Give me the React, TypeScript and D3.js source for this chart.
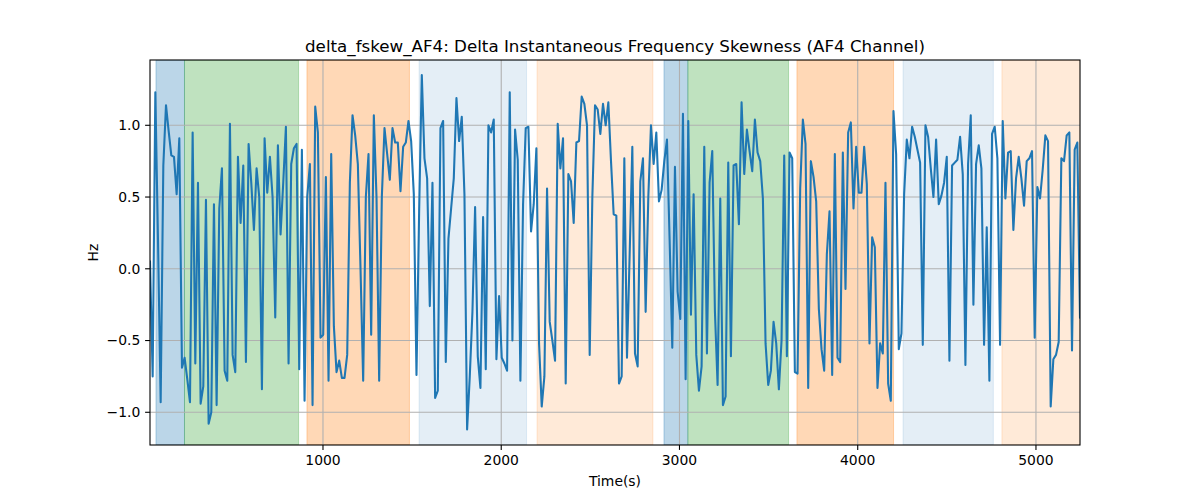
import React from "react";
import * as d3 from "d3";

const title = "delta_fskew_AF4: Delta Instantaneous Frequency Skewness (AF4 Channel)";
const xLabel = "Time(s)";
const yLabel = "Hz";

const t0 = 29.5;
const tStep = 14.95;

const values: number[] = [
  0.05, -0.75, 1.23, 0.2, -0.93, 0.72, 1.14, 0.96, 0.79, 0.78,
  0.52, 0.91, -0.69, -0.62, -0.77, -0.93, 0.95, -0.66, 0.6, -0.94,
  -0.82, 0.48, -1.08, -1.0, 0.45, -0.95, 0.42, 0.7, -0.71, -0.78,
  1.01, -0.6, -0.72, 0.78, 0.32, 0.72, -0.65, 0.87, 0.6, 0.27,
  0.7, 0.5, -0.84, 0.91, 0.53, 0.78, 0.5, -0.34, 0.86, 0.24,
  0.6, 0.99, -0.66, 0.73, 0.84, 0.87, -0.7, 0.83, -0.92, 0.5,
  0.73, -0.95, 1.13, 0.95, -0.48, -0.46, 0.64, -0.78, 0.8, -0.4,
  -0.72, -0.64, -0.76, -0.76, -0.6, 0.6, 1.07, 0.93, 0.73, 0.0,
  -0.78, 0.5, 0.8, -0.46, 1.07, 0.5, -0.78, 0.5, 0.98, 0.8,
  0.62, 0.98, 0.88, 0.88, 0.54, 0.85, 0.88, 1.03, 0.89, 0.52,
  -0.74, 0.4, 1.35, 0.77, 0.63, -0.26, 0.6, -0.9, -0.85, 0.98,
  1.03, -0.65, 0.21, 0.42, 0.63, 1.19, 0.89, 1.06, 0.52, -1.12,
  -0.75, -0.3, 0.43, -0.61, -0.83, 0.36, -0.7, 1.0, 0.95, 1.04,
  -0.63, -0.19, -0.62, -0.66, -0.71, 1.23, -0.5, 0.97, 0.76, -0.78,
  0.45, 0.98, 0.99, 0.26, 0.45, 0.84, -0.52, -0.96, -0.75, 0.56,
  -0.37, -0.5, -0.64, 1.01, 0.7, 0.91, -0.8, 0.66, 0.61, 0.32,
  0.88, 0.89, 1.2, 1.15, 1.0, -0.6, 0.5, 1.14, 1.11, 0.94,
  1.15, 1.0, 1.16, 0.75, 0.38, 0.37, -0.8, -0.75, 0.77, -0.62,
  0.1, 0.85, -0.59, -0.68, 0.61, 0.77, -0.3, 0.5, 1.0, 0.73,
  0.95, 0.47, 0.55, 0.75, 0.9, 0.2, -0.55, 0.71, -0.16, -0.35,
  1.08, -0.77, 1.03, -0.32, 0.52, -0.6, -0.85, -0.68, 0.85, -0.59,
  0.6, 0.82, -0.3, -0.81, 0.49, -0.95, -0.89, 0.74, -0.61, 0.72,
  0.73, 0.31, 1.16, 0.66, 0.97, 0.82, 0.68, 1.04, 0.81, 0.75,
  0.49, -0.52, -0.81, -0.71, -0.37, -0.52, -0.84, -0.5, 0.79, -0.61,
  0.81, 0.77, -0.72, -0.73, 0.56, 1.04, 0.87, -0.83, 0.75, 0.64,
  0.47, -0.28, -0.56, -0.71, 0.1, 0.4, -0.74, 0.8, -0.62, -0.65,
  0.81, -0.14, 0.95, 1.02, 0.42, 0.85, 0.53, 0.53, 0.85, 0.59,
  -0.52, 0.22, 0.15, -0.83, -0.52, -0.59, 0.6, -0.8, -0.92, 1.1,
  0.8, -0.56, -0.45, 0.52, 0.9, 0.77, 0.99, 0.92, 0.83, 0.74,
  -0.53, 1.0, 0.92, 0.7, 0.5, 0.9, 0.45, 0.51, 0.6, 0.78,
  -0.64, 0.72, 0.74, 0.76, 0.92, 0.66, -0.67, 0.73, 1.07, -0.25,
  0.73, 0.86, 0.7, -0.53, 0.29, -0.78, 0.94, 0.99, 0.77, -0.53,
  1.03, 0.49, 0.81, 0.82, 0.27, 0.63, 0.78, 0.63, 0.44, 0.75,
  0.77, 0.82, -0.48, 0.57, 0.49, 0.69, 0.93, 0.89, -0.96, -0.63,
  -0.6, -0.51, 0.77, 0.75, 0.93, 0.95, -0.57, 0.83, 0.88, -0.34,
];

const times: number[] = values.map((_, i) => t0 + i * tStep);

// shaded phases: start, end, colour, opacity
const spanStarts = [63, 223, 910, 1539, 2201, 2913, 3047, 3659, 4254, 4809];
const spanEnds = [223, 863, 1485, 2142, 2851, 3047, 3612, 4201, 4761, 5260];
const spanColors = ["#1f77b4", "#2ca02c", "#ff7f0e", "#1f77b4", "#ff7f0e", "#1f77b4", "#2ca02c", "#ff7f0e", "#1f77b4", "#ff7f0e"];
const spanAlphas = [0.3, 0.3, 0.3, 0.12, 0.16, 0.3, 0.3, 0.3, 0.12, 0.16];

const xTicks = [1000, 2000, 3000, 4000, 5000];
const yTicks = [-1.0, -0.5, 0.0, 0.5, 1.0];

const W = 1200;
const H = 500;
const L = 150;
const R = 1080;
const T = 60;
const B = 445;

const FONT = "DejaVu Sans, sans-serif";

export default function App() {
  const x = d3.scaleLinear().domain([times[0], times[times.length - 1]]).range([L, R]);
  const y = d3.scaleLinear().domain([-1.228, 1.455]).range([B, T]);
  const line = d3
    .line<number>()
    .x((_, i) => x(times[i]))
    .y((d) => y(d));
  const fmtY = (v: number) => d3.format(".1f")(v).replace("-", "\u2212");

  return (
    <svg
      width={W}
      height={H}
      style={{ position: "absolute", left: 0, top: 0, background: "#fff" }}
      fontFamily={FONT}
    >
      <defs>
        <clipPath id="plotclip">
          <rect x={L} y={T} width={R - L} height={B - T} />
        </clipPath>
      </defs>
      <g clipPath="url(#plotclip)">
        {spanStarts.map((s, i) => (
          <rect
            key={i}
            x={x(s)}
            y={T}
            width={x(spanEnds[i]) - x(s)}
            height={B - T}
            fill={spanColors[i]}
            fillOpacity={spanAlphas[i]}
            stroke={spanColors[i]}
            strokeOpacity={spanAlphas[i]}
            strokeWidth={1}
          />
        ))}
        {xTicks.map((t) => (
          <line key={"gx" + t} x1={x(t)} x2={x(t)} y1={T} y2={B} stroke="#b0b0b0" strokeWidth={1.1} />
        ))}
        {yTicks.map((t) => (
          <line key={"gy" + t} x1={L} x2={R} y1={y(t)} y2={y(t)} stroke="#b0b0b0" strokeWidth={1.1} />
        ))}
        <path d={line(values) || ""} fill="none" stroke="#1f77b4" strokeWidth={2.08} strokeLinejoin="round" strokeLinecap="square" />
      </g>
      <rect x={L} y={T} width={R - L} height={B - T} fill="none" stroke="#000" strokeWidth={1.1} />
      {xTicks.map((t) => (
        <g key={"tx" + t}>
          <line x1={x(t)} x2={x(t)} y1={B} y2={B + 4.9} stroke="#000" strokeWidth={1.1} />
          <text x={x(t)} y={B + 9.7} dy="0.76em" textAnchor="middle" fontSize={13.9} fill="#000">
            {t}
          </text>
        </g>
      ))}
      {yTicks.map((t) => (
        <g key={"ty" + t}>
          <line x1={L - 4.9} x2={L} y1={y(t)} y2={y(t)} stroke="#000" strokeWidth={1.1} />
          <text x={L - 9.7} y={y(t)} dy="0.35em" textAnchor="end" fontSize={13.9} fill="#000">
            {fmtY(t)}
          </text>
        </g>
      ))}
      <text x={(L + R) / 2} y={486} textAnchor="middle" fontSize={13.9} fill="#000">
        {xLabel}
      </text>
      <text
        transform={`translate(${98},${(T + B) / 2}) rotate(-90)`}
        textAnchor="middle"
        fontSize={13.9}
        fill="#000"
      >
        {yLabel}
      </text>
      <text x={(L + R) / 2} y={52} textAnchor="middle" fontSize={16.7} fill="#000">
        {title}
      </text>
    </svg>
  );
}
